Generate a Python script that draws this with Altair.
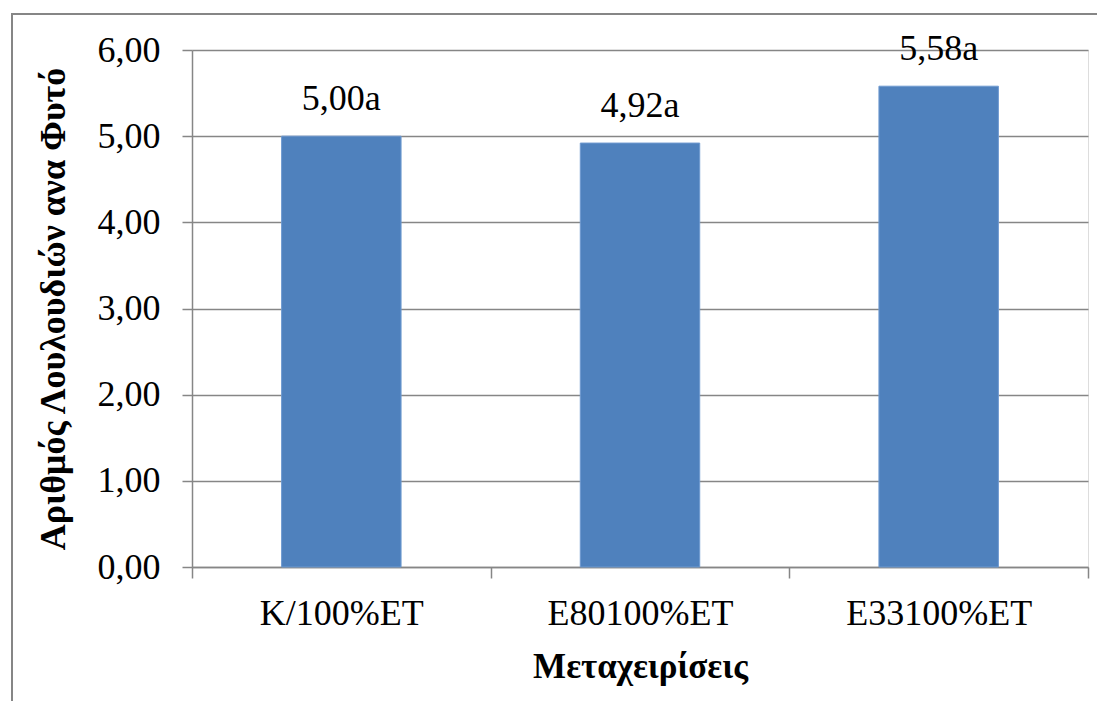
import altair as alt
import pandas as pd

categories = ["K/100%ET", "E80100%ET", "E33100%ET"]
values = [5.00, 4.92, 5.58]
letters = ["a", "a", "a"]

labels = [f"{v:.2f}".replace(".", ",") + l for v, l in zip(values, letters)]
df = pd.DataFrame({"cat": categories, "val": values, "lab": labels})

FONT = "Liberation Serif, Times New Roman, serif"
GRAY = "#868686"

xenc = alt.X(
    "cat:N",
    sort=categories,
    scale=alt.Scale(paddingInner=0, paddingOuter=0),
    axis=alt.Axis(
        title="Μεταχειρίσεις",
        labelAngle=0,
        labelLimit=0,
        tickBand="extent",
        tickSize=11,
        tickColor=GRAY,
        tickWidth=1.5,
        domainColor=GRAY,
        domainWidth=1.5,
        labelFont=FONT,
        labelFontSize=36,
        labelColor="black",
        labelPadding=18,
        titleFont=FONT,
        titleFontSize=35,
        titleFontWeight="bold",
        titleColor="black",
        titleY=110,
        titleBaseline="alphabetic",
        titleLimit=0,
    ),
)

yenc = alt.Y(
    "val:Q",
    scale=alt.Scale(domain=[0, 6], nice=False),
    axis=alt.Axis(
        title="Αριθμός Λουλουδιών ανα Φυτό",
        values=[0, 1, 2, 3, 4, 5, 6],
        labelExpr="replace(format(datum.value, '.2f'), '.', ',')",
        labelLimit=0,
        tickSize=10,
        tickColor=GRAY,
        tickWidth=1.5,
        domainColor=GRAY,
        domainWidth=1.5,
        gridColor=GRAY,
        gridWidth=1.5,
        labelFont=FONT,
        labelFontSize=36,
        labelColor="black",
        labelPadding=22,
        titleFont=FONT,
        titleFontSize=36,
        titleFontWeight="bold",
        titleColor="black",
        titleX=-128,
        titleY=258.5,
        titleAngle=-90,
        titleAlign="center",
        titleBaseline="alphabetic",
        titleLimit=0,
    ),
)

frame = alt.Chart(df).mark_rect(
    fill=None, stroke=GRAY, strokeWidth=2, clip=False
).encode(
    x=alt.value(-180), x2=alt.value(940), y=alt.value(-36), y2=alt.value(700)
)

bars = alt.Chart(df).mark_bar(
    color="#4F81BD", stroke="#6F9AD0", strokeWidth=1,
    width=alt.RelativeBandSize(0.4)
).encode(x=xenc, y=yenc)

text = alt.Chart(df).mark_text(
    font=FONT, fontSize=36, color="black", baseline="alphabetic", dy=-26
).encode(x=alt.X("cat:N", sort=categories), y=alt.Y("val:Q"), text="lab:N")

chart = alt.layer(frame, bars, text).properties(
    width=896,
    height=517,
    autosize=alt.AutoSizeParams(type="none"),
    padding={"left": 184, "top": 42, "right": 9, "bottom": 134},
).configure_view(stroke=None).configure(background="white", font=FONT)

chart.save("out.html", embed_options={"renderer": "svg", "actions": False})
